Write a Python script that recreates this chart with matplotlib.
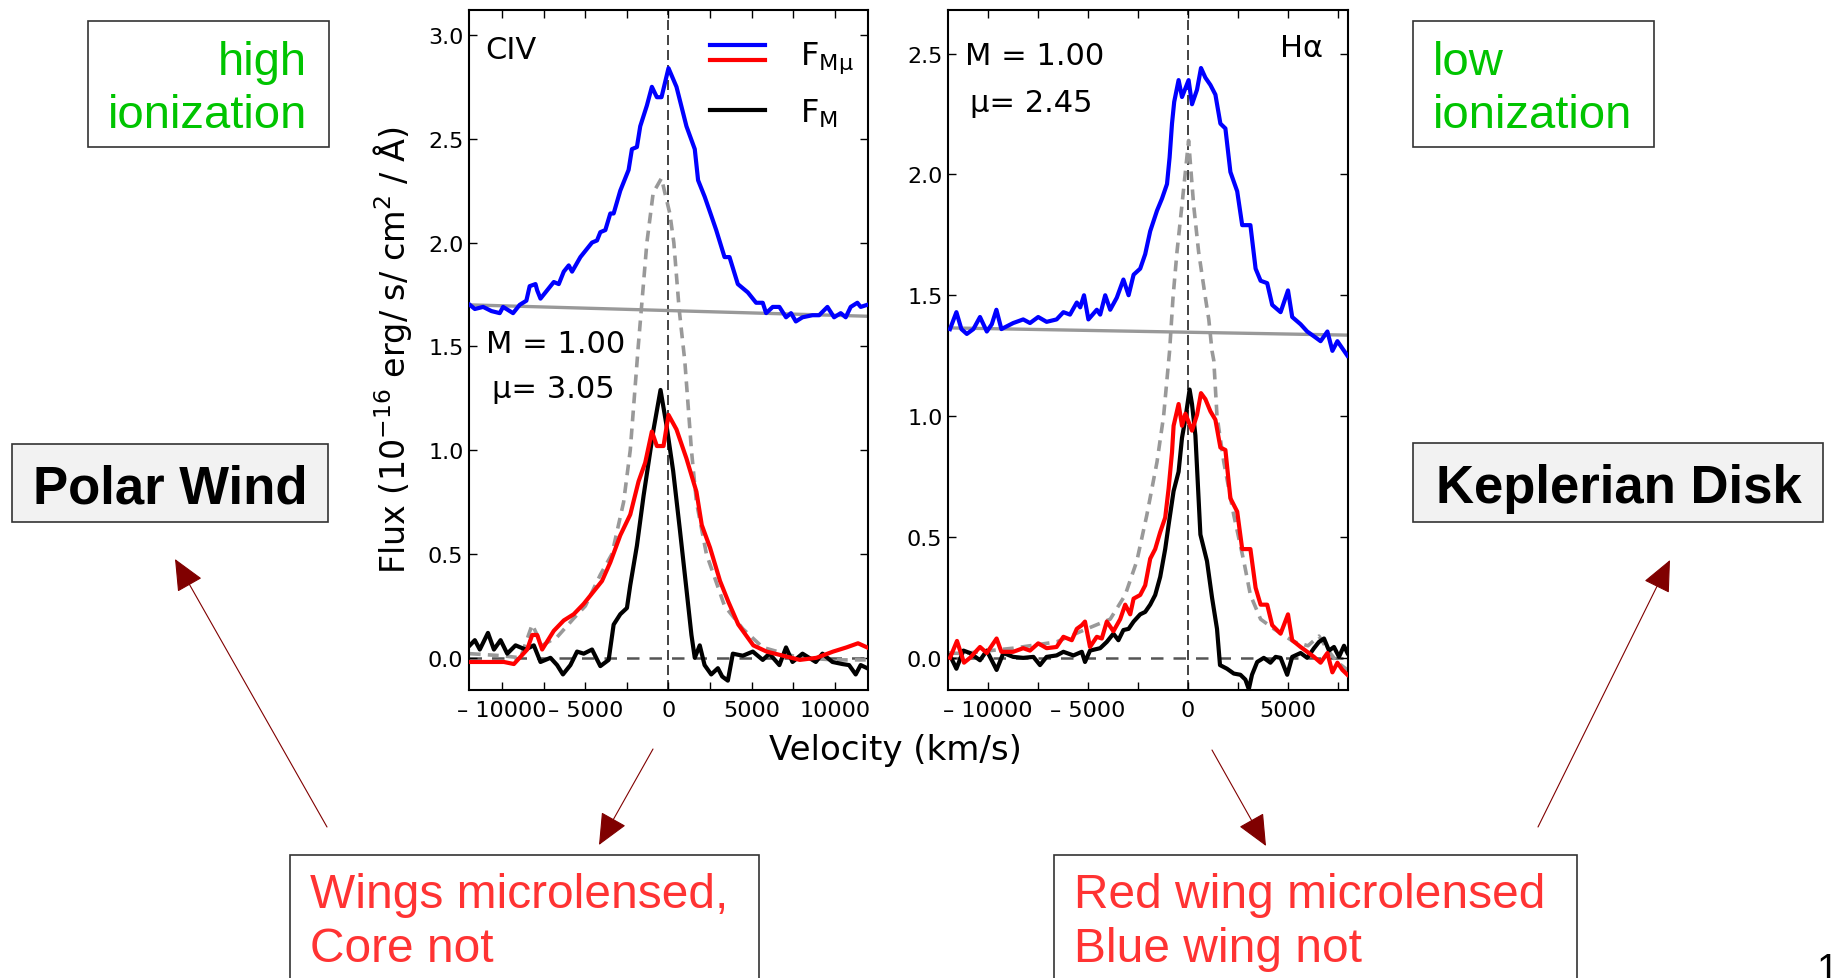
import matplotlib
matplotlib.use('Agg')
import matplotlib.pyplot as plt
from matplotlib.ticker import MultipleLocator, FuncFormatter
from matplotlib.patches import Rectangle, FancyArrowPatch
from matplotlib.legend_handler import HandlerBase
from matplotlib.lines import Line2D

# ---- CIV panel data (velocity km/s, flux 1e-16 erg/s/cm2/A) ----
civ_blue_v = [-11950, -11650, -11150, -10650, -10150, -9950, -9350, -8950, -8550, -8350,
              -8000, -7900, -7700, -7300, -6900, -6600, -6300, -6000, -5800, -5300,
              -4900, -4600, -4300, -4100, -3800, -3500, -3300, -2900, -2400, -2200,
              -1900, -1700, -1300, -1000, -700, -420, 0, 480, 1080, 1580,
              1780, 2180, 2570, 2870, 3370, 3670, 4170, 4770, 5270, 5670,
              5870, 6270, 6670, 7070, 7370, 7660, 8060, 8660, 9060, 9560,
              9960, 10360, 10660, 10960, 11360, 11560, 11950]
civ_blue_f = [1.70, 1.68, 1.69, 1.67, 1.66, 1.69, 1.66, 1.70, 1.72, 1.79,
              1.80, 1.77, 1.73, 1.77, 1.81, 1.80, 1.86, 1.89, 1.86, 1.93,
              1.97, 2.00, 2.01, 2.05, 2.06, 2.14, 2.14, 2.25, 2.35, 2.45,
              2.46, 2.56, 2.66, 2.75, 2.70, 2.70, 2.84, 2.75, 2.56, 2.45,
              2.30, 2.22, 2.13, 2.06, 1.93, 1.93, 1.80, 1.76, 1.71, 1.71,
              1.66, 1.69, 1.69, 1.64, 1.66, 1.62, 1.64, 1.65, 1.65, 1.69,
              1.64, 1.66, 1.64, 1.69, 1.71, 1.69, 1.70]

civ_red_v = [-11900, -10700, -9900, -9300, -8500, -8200, -7900, -7600, -6900, -6300,
             -5700, -5100, -4500, -4000, -3500, -2900, -2300, -1800, -1400, -1000,
             -700, -300, 0, 480, 1080, 1680, 2000, 2500, 3100, 3600,
             4200, 5100, 5900, 6900, 7900, 8900, 9900, 10700, 11400, 11950]
civ_red_f = [-0.02, -0.02, -0.02, -0.03, 0.04, 0.11, 0.11, 0.04, 0.13, 0.18,
             0.21, 0.26, 0.32, 0.37, 0.46, 0.59, 0.69, 0.85, 0.94, 1.09,
             1.02, 1.02, 1.17, 1.10, 0.96, 0.80, 0.64, 0.53, 0.37, 0.27,
             0.16, 0.06, 0.03, 0.01, -0.01, 0.00, 0.03, 0.05, 0.07, 0.05]

civ_black_v = [-11950, -11650, -11350, -10860, -10500, -10100, -9700, -9200, -8600, -8100,
               -7700, -7100, -6700, -6350, -5900, -5500, -5100, -4600, -4100, -3600,
               -3300, -2900, -2500, -2300, -1900, -1500, -900, -480, -120, 280,
               680, 1080, 1380, 1580, 1880, 2170, 2570, 2970, 3230, 3570,
               3870, 4470, 5070, 5670, 6070, 6670, 7070, 7460, 8060, 8860,
               9260, 9860, 10460, 10860, 11260, 11560, 11950]
civ_black_f = [0.06, 0.085, 0.04, 0.12, 0.04, 0.085, 0.02, 0.06, 0.04, 0.06,
               -0.02, 0.0, -0.035, -0.08, -0.035, 0.03, 0.02, 0.04, -0.04, -0.01,
               0.16, 0.21, 0.24, 0.35, 0.54, 0.78, 1.10, 1.29, 1.12, 0.90,
               0.62, 0.33, 0.11, 0.0, 0.06, -0.035, -0.08, -0.05, -0.09, -0.11,
               0.02, 0.01, 0.03, -0.01, 0.02, -0.035, 0.05, -0.02, 0.02, -0.02,
               0.02, -0.02, -0.03, -0.035, -0.08, -0.035, -0.05]

civ_dash_v = [-11950, -10000, -8900, -8200, -7600, -6700, -5700, -5000, -4100, -3400,
              -2700, -2300, -1820, -1300, -920, -420, -220, 80, 320, 640,
              760, 980, 1380, 1680, 2280, 3370, 4470, 5670, 7900, 10000, 11950]
civ_dash_f = [0.02, 0.01, 0.0, 0.16, 0.06, 0.10, 0.19, 0.25, 0.40, 0.50,
              0.75, 1.0, 1.50, 2.0, 2.24, 2.31, 2.24, 2.14, 2.0, 1.68,
              1.59, 1.43, 1.0, 0.75, 0.5, 0.25, 0.14, 0.05, 0.0, -0.01, -0.01]

civ_cont_v = [-12000, 12000]
civ_cont_f = [1.70, 1.645]

# ---- H-alpha panel data ----
ha_blue_v = [-11900, -11580, -11330, -11060, -10730, -10400, -10060, -9810, -9580, -9330,
             -8740, -8240, -7900, -7490, -7070, -6570, -6230, -5900, -5560, -5390,
             -5200, -4980, -4560, -4390, -4140, -3890, -3560, -3230, -2970, -2720,
             -2390, -2140, -1890, -1550, -1300, -1050, -920, -800, -690, -470,
             -300, 30, 200, 450, 650, 870, 1120, 1370, 1620, 1870,
             2120, 2460, 2710, 3120, 3380, 3630, 3960, 4210, 4630, 5000,
             5210, 5630, 5960, 6300, 6630, 6970, 7220, 7470, 7720, 7970]
ha_blue_f = [1.36, 1.43, 1.36, 1.34, 1.36, 1.41, 1.35, 1.38, 1.44, 1.36,
             1.385, 1.40, 1.385, 1.41, 1.39, 1.40, 1.43, 1.42, 1.47, 1.45,
             1.50, 1.40, 1.44, 1.42, 1.50, 1.44, 1.49, 1.565, 1.50, 1.585,
             1.61, 1.67, 1.765, 1.85, 1.90, 1.96, 2.07, 2.21, 2.30, 2.39,
             2.32, 2.39, 2.29, 2.35, 2.44, 2.40, 2.37, 2.33, 2.21, 2.19,
             2.01, 1.93, 1.79, 1.79, 1.61, 1.56, 1.55, 1.46, 1.43, 1.52,
             1.41, 1.38, 1.35, 1.33, 1.31, 1.35, 1.27, 1.31, 1.28, 1.25]

ha_red_v = [-11900, -11550, -11200, -10900, -10400, -10060, -9570, -9330, -8740, -8240,
            -7900, -7490, -7070, -6570, -6230, -5810, -5560, -5310, -5150, -4900,
            -4560, -4310, -4060, -3730, -3390, -3140, -2890, -2720, -2390, -2140,
            -1890, -1640, -1390, -1140, -970, -800, -720, -470, -300, -130,
            200, 450, 650, 870, 1120, 1370, 1620, 1870, 2120, 2460,
            2710, 3120, 3380, 3630, 3960, 4210, 4630, 5000, 5210, 5630,
            5960, 6300, 6630, 6970, 7220, 7470, 7720, 7970]
ha_red_f = [0.0, 0.07, -0.02, 0.0, 0.045, 0.02, 0.08, 0.025, 0.025, 0.04,
            0.03, 0.06, 0.04, 0.045, 0.087, 0.073, 0.12, 0.135, 0.15, 0.045,
            0.087, 0.08, 0.15, 0.11, 0.16, 0.22, 0.18, 0.245, 0.26, 0.30,
            0.41, 0.45, 0.52, 0.58, 0.70, 0.85, 0.96, 1.05, 0.96, 1.01,
            0.94, 1.005, 1.095, 1.07, 1.02, 0.985, 0.87, 0.86, 0.66, 0.605,
            0.45, 0.45, 0.29, 0.22, 0.22, 0.135, 0.10, 0.18, 0.073, 0.045,
            0.025, 0.004, -0.02, 0.02, -0.06, -0.02, -0.05, -0.07]

ha_black_v = [-11900, -11580, -11230, -10900, -10400, -10060, -9570, -9230, -8740, -8240,
              -7730, -7400, -7070, -6570, -6230, -5730, -5310, -5150, -4900, -4390,
              -4060, -3730, -3480, -3230, -2970, -2720, -2390, -2140, -1890, -1640,
              -1390, -1140, -970, -720, -470, -300, -130, 80, 200, 370,
              620, 950, 1200, 1450, 1600, 1950, 2290, 2620, 2870,
              3040, 3200, 3460, 3790, 4120, 4380, 4630, 4960, 5210, 5630,
              5960, 6300, 6550, 6800, 7050, 7300, 7550, 7800, 7970]
ha_black_f = [0.01, -0.045, 0.03, 0.02, -0.01, 0.03, -0.05, 0.02, 0.004, 0.0,
              0.004, -0.03, 0.004, 0.01, 0.025, 0.01, 0.025, -0.017, 0.03, 0.04,
              0.066, 0.10, 0.073, 0.115, 0.12, 0.15, 0.18, 0.19, 0.22, 0.26,
              0.335, 0.45, 0.55, 0.69, 0.77, 0.91, 0.99, 1.11, 1.05, 0.92,
              0.51, 0.40, 0.25, 0.12, -0.03, -0.045, -0.065, -0.07, -0.09,
              -0.13, -0.07, -0.017, 0.0, -0.02, 0.004, 0.0, -0.07, 0.004, 0.02,
              0.0, 0.04, 0.066, 0.08, 0.03, 0.045, 0.004, 0.05, 0.02]

ha_dash_v = [-11950, -11250, -8740, -6570, -5060, -3890, -3140, -2560, -2060, -1550,
             -1220, -920, -750, -550, -300, 30, 280, 530, 870, 1040,
             1200, 1290, 1450, 1790, 2290, 2790, 3120, 3630, 4290, 5300,
             6000, 6550, 7000, 7500, 7970]
ha_dash_f = [0.02, 0.018, 0.04, 0.066, 0.12, 0.16, 0.26, 0.40, 0.59, 0.81,
             1.0, 1.27, 1.49, 1.68, 1.875, 2.14, 1.875, 1.68, 1.49, 1.40,
             1.27, 1.23, 1.0, 0.81, 0.59, 0.40, 0.26, 0.16, 0.12, 0.066,
             0.05, 0.09, 0.03, -0.02, -0.05]

ha_cont_v = [-12000, 8000]
ha_cont_f = [1.365, 1.335]

W, H = 1832, 979
PLOT_FONT = 'DejaVu Sans'
SLIDE_FONT = 'Liberation Sans'
GREEN = '#00c400'
SLIDE_RED = '#ff3333'
ARROW = '#800000'


def fx(x):
    return x / W


def fy(y):
    return 1 - y / H


def vel_fmt(v, pos):
    vv = int(round(v))
    if vv % 5000 != 0:
        return ''
    if vv < 0:
        return '\u2013 ' + str(-vv)
    return str(vv)


def flux_fmt(v, pos):
    if abs(v) < 1e-9:
        v = 0.0
    return f'{v:.1f}'


class HandlerStack(HandlerBase):
    # two lines stacked in one legend handle (blue over red)
    def create_artists(self, legend, orig_handle, xdescent, ydescent,
                       width, height, fontsize, trans):
        out = []
        yc = (height - ydescent) / 2.
        offs = [0.33 * height, -0.33 * height]
        for h, dy in zip(orig_handle, offs):
            ln = Line2D([-xdescent, width - xdescent], [yc + dy, yc + dy],
                        color=h.get_color(), lw=h.get_linewidth())
            ln.set_transform(trans)
            out.append(ln)
        return out


def style_panel(ax, xlim, ylim):
    ax.set_xlim(xlim)
    ax.set_ylim(ylim)
    ax.xaxis.set_major_locator(MultipleLocator(2500))
    ax.xaxis.set_major_formatter(FuncFormatter(vel_fmt))
    ax.yaxis.set_major_locator(MultipleLocator(0.5))
    ax.yaxis.set_major_formatter(FuncFormatter(flux_fmt))
    ax.tick_params(direction='in', top=True, right=True, length=6, width=1,
                   labelsize=16)
    ax.tick_params(axis='x', pad=7)
    ax.tick_params(axis='y', pad=4)
    for lab in ax.get_xticklabels() + ax.get_yticklabels():
        lab.set_family(PLOT_FONT)
    for s in ax.spines.values():
        s.set_linewidth(1.5)
    ax.axhline(0, color='#555555', ls=(0, (5, 4)), lw=1.8, zorder=1)
    ax.axvline(0, color='#222222', ls=(0, (6, 3)), lw=1.2, zorder=1)


fig = plt.figure(figsize=(W / 100, H / 100), dpi=100)
fig.patch.set_facecolor('white')

ax1 = fig.add_axes([fx(469), fy(691), 399 / W, 680 / H])
ax2 = fig.add_axes([fx(948), fy(691), 400 / W, 680 / H])

LW = 3.0
GRAY = '#999999'

# CIV
ax1.plot(civ_cont_v, civ_cont_f, color=GRAY, lw=2.4, zorder=2)
ax1.plot(civ_dash_v, civ_dash_f, color=GRAY, lw=2.6, ls=(0, (3, 2)), zorder=2)
lk = ax1.plot(civ_black_v, civ_black_f, color='black', lw=LW, zorder=3)[0]
lr = ax1.plot(civ_red_v, civ_red_f, color='red', lw=LW, zorder=4)[0]
lb = ax1.plot(civ_blue_v, civ_blue_f, color='blue', lw=LW, zorder=5)[0]
style_panel(ax1, (-12000, 12000), (-0.155, 3.12))

# H-alpha
ax2.plot(ha_cont_v, ha_cont_f, color=GRAY, lw=2.4, zorder=2)
ax2.plot(ha_dash_v, ha_dash_f, color=GRAY, lw=2.6, ls=(0, (3, 2)), zorder=2)
ax2.plot(ha_black_v, ha_black_f, color='black', lw=LW, zorder=3)
ax2.plot(ha_red_v, ha_red_f, color='red', lw=LW, zorder=4)
ax2.plot(ha_blue_v, ha_blue_f, color='blue', lw=LW, zorder=5)
style_panel(ax2, (-12000, 8000), (-0.133, 2.68))

# in-panel labels
txt = dict(fontsize=22, family=PLOT_FONT, va='baseline')
ax1.text(0.040, 0.929, 'CIV', transform=ax1.transAxes, ha='left', **txt)
ax1.text(0.043, 0.497, 'M = 1.00', transform=ax1.transAxes, ha='left', **txt)
ax1.text(0.058, 0.431, '\u03bc= 3.05', transform=ax1.transAxes, ha='left', **txt)
ax2.text(0.042, 0.921, 'M = 1.00', transform=ax2.transAxes, ha='left', **txt)
ax2.text(0.054, 0.851, '\u03bc= 2.45', transform=ax2.transAxes, ha='left', **txt)
ax2.text(0.938, 0.932, 'H\u03b1', transform=ax2.transAxes, ha='right', **txt)

leg = ax1.legend([(lb, lr), lk], ['F$_{\\mathrm{M\u03bc}}$', 'F$_{\\mathrm{M}}$'],
                 handler_map={tuple: HandlerStack()}, loc='upper right',
                 bbox_to_anchor=(0.964, 0.957), frameon=False, fontsize=23,
                 handlelength=1.7, handletextpad=1.1, borderpad=0.0,
                 borderaxespad=0.0, labelspacing=0.68)
for t in leg.get_texts():
    t.set_family(PLOT_FONT)

# axis titles
fig.text(fx(392), fy(350), 'Flux (10$^{-16}$ erg/ s/ cm$^2$ / \u00c5)', rotation=90,
         ha='center', va='center', fontsize=24, family=PLOT_FONT)
fig.text(fx(895), fy(760), 'Velocity (km/s)', ha='center', va='baseline',
         fontsize=24.5, family=PLOT_FONT)

# slide boxes
boxes = [
    (88, 22, 329, 148, 'white'),
    (1413, 22, 1654, 148, 'white'),
    (12, 445, 328, 523, '#f2f2f2'),
    (1413, 444, 1823, 523, '#f2f2f2'),
    (290, 856, 759, 995, 'white'),
    (1054, 856, 1577, 995, 'white'),
]
for x0, y0, x1, y1, fc in boxes:
    fig.add_artist(Rectangle((fx(x0), fy(y1)), (x1 - x0) / W, (y1 - y0) / H,
                             transform=fig.transFigure, fc=fc, ec='#333333',
                             lw=1.2, zorder=0))

st = dict(family=SLIDE_FONT, va='baseline')
fig.text(fx(307), fy(75), 'high', ha='right', fontsize=34, color=GREEN, **st)
fig.text(fx(307), fy(128), 'ionization', ha='right', fontsize=34, color=GREEN, **st)
fig.text(fx(1433), fy(75), 'low', ha='left', fontsize=34, color=GREEN, **st)
fig.text(fx(1433), fy(128), 'ionization', ha='left', fontsize=34, color=GREEN, **st)
fig.text(fx(170), fy(503), 'Polar Wind', ha='center', fontsize=38,
         weight='bold', **st)
fig.text(fx(1619), fy(503), 'Keplerian Disk', ha='center', fontsize=38,
         weight='bold', **st)
fig.text(fx(310), fy(908), 'Wings microlensed,', ha='left', fontsize=34.5,
         color=SLIDE_RED, **st)
fig.text(fx(310), fy(962), 'Core not', ha='left', fontsize=34.5,
         color=SLIDE_RED, **st)
fig.text(fx(1074), fy(908), 'Red wing microlensed', ha='left', fontsize=34.5,
         color=SLIDE_RED, **st)
fig.text(fx(1074), fy(962), 'Blue wing not', ha='left', fontsize=34.5,
         color=SLIDE_RED, **st)
fig.text(fx(1817), fy(953), '1', ha='left', va='top', fontsize=28,
         family=SLIDE_FONT)

# arrows
arrows = [
    ((327, 828), (175, 560)),
    ((653, 750), (599, 846)),
    ((1212, 751), (1266, 847)),
    ((1538, 828), (1670, 561)),
]
for (xa, ya), (xb, yb) in arrows:
    fig.add_artist(FancyArrowPatch((fx(xa), fy(ya)), (fx(xb), fy(yb)),
                                   transform=fig.transFigure,
                                   arrowstyle='-|>,head_length=20,head_width=9',
                                   mutation_scale=1, color=ARROW, lw=0.8,
                                   shrinkA=0, shrinkB=0))

fig.savefig('out.png', dpi=100, facecolor='white')
